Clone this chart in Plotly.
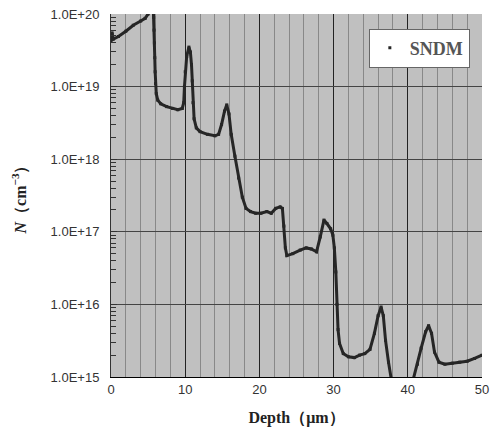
import plotly.graph_objects as go

depth_um = [0.0, 0.15, 0.3, 1.0, 2.0, 3.0, 4.0, 4.6, 5.0, 5.3,
            5.7, 5.75, 5.8, 5.85, 5.9, 5.95, 6.0, 6.1, 6.3, 6.7, 7.5, 8.3, 9.0, 9.6,
            9.8, 9.9, 10.0, 10.2, 10.5, 10.7, 10.85, 10.95, 11.05, 11.2, 11.5,
            12.0, 13.0, 14.0, 14.5, 14.9, 15.3, 15.6, 15.9, 16.2, 16.7, 17.2, 17.7,
            18.2, 18.8, 19.5, 20.2, 21.0, 21.6, 22.2, 22.8, 23.1, 23.3, 23.5, 23.7,
            24.5, 25.5, 26.3, 27.0, 27.7, 28.2, 28.7, 29.1, 29.6, 29.9, 30.1, 30.3,
            30.45, 30.6, 30.8, 31.3, 32.0, 32.8, 33.5, 34.2, 34.9, 35.5, 36.0, 36.4,
            36.7, 37.0, 37.4, 37.8, 38.5, 40.0, 40.7, 41.3, 41.8, 42.4, 42.8, 43.2,
            43.6, 44.2, 45.0, 46.0, 47.0, 48.0, 49.0, 50.0]
n_cm3 = [4.3e19, 5.5e19, 4.5e19, 4.9e19, 5.8e19, 7.0e19, 8.0e19, 8.7e19, 1.0e20, 1.2e20,
         1.2e20, 9.0e19, 6.0e19, 4.0e19, 2.5e19, 1.6e19, 1.1e19, 8.0e18, 6.5e18, 5.8e18, 5.3e18, 5.0e18, 4.8e18, 5.0e18,
         6.0e18, 1.0e19, 1.6e19, 2.6e19, 3.5e19, 3.0e19, 2.0e19, 1.2e19, 6.0e18, 3.6e18, 2.7e18,
         2.4e18, 2.2e18, 2.1e18, 2.2e18, 3.0e18, 4.6e18, 5.6e18, 4.2e18, 2.2e18, 1.1e18, 5.5e17, 3.0e17,
         2.1e17, 1.9e17, 1.8e17, 1.8e17, 1.9e17, 1.8e17, 2.1e17, 2.2e17, 2.1e17, 1.2e17, 6.0e16, 4.7e16,
         5.0e16, 5.6e16, 6.0e16, 5.8e16, 5.3e16, 8.5e16, 1.45e17, 1.3e17, 1.1e17, 9.0e16, 6.0e16, 2.8e16,
         1.0e16, 4.5e15, 2.9e15, 2.1e15, 1.9e15, 1.85e15, 2.0e15, 2.1e15, 2.4e15, 4.0e15, 7.0e15, 9.2e15,
         7.0e15, 3.2e15, 1.6e15, 9.0e14, 5.0e14, 5.0e14, 9.0e14, 1.5e15, 2.5e15, 4.2e15, 5.1e15, 4.0e15,
         2.2e15, 1.6e15, 1.5e15, 1.55e15, 1.6e15, 1.65e15, 1.8e15, 2.0e15]

y_tickvals = [1e15, 1e16, 1e17, 1e18, 1e19, 1e20]
y_ticktext = ["1.0E+15", "1.0E+16", "1.0E+17", "1.0E+18", "1.0E+19", "1.0E+20"]
x_tickvals = [0, 10, 20, 30, 40, 50]

series_name = "SNDM"
ink = "#262626"

fig = go.Figure()
fig.add_trace(go.Scatter(x=depth_um, y=n_cm3, mode="lines",
                         line=dict(color=ink, width=3), showlegend=False,
                         hoverinfo="skip"))
fig.add_trace(go.Scatter(x=depth_um, y=n_cm3, mode="markers", name=series_name,
                         marker=dict(symbol="square", size=3, color=ink)))

fig.update_layout(
    width=490, height=432,
    margin=dict(l=111, r=8, t=14, b=55),
    paper_bgcolor="white", plot_bgcolor="#c0c0c0",
    showlegend=True,
    legend=dict(x=0.695, y=0.96, xanchor="left", yanchor="top",
                bgcolor="white", bordercolor="#666", borderwidth=1,
                font=dict(family="Liberation Serif", size=18, color="#555",
                          weight="bold"),
                itemwidth=30, tracegroupgap=0),
    font=dict(family="Liberation Sans", size=13, color="#333"),
)

fig.update_xaxes(
    range=[0, 50], tickvals=x_tickvals, ticks="", showline=True,
    linecolor="#000", linewidth=1, showgrid=True, gridcolor="#222", gridwidth=1,
    zeroline=False, automargin=False, ticklabeloverflow="allow",
    tickfont=dict(family="Liberation Sans", size=13, color="#333"),
    minor=dict(dtick=2, showgrid=True, gridcolor="#888", gridwidth=1, ticks=""),
    title=dict(text="<b>Depth（μm）</b>", standoff=16,
               font=dict(family="Liberation Serif", size=16, color="#222")),
)
fig.update_yaxes(
    type="log", range=[15, 20], tickvals=y_tickvals, ticktext=y_ticktext,
    ticks="inside", ticklen=6, tickcolor="#333", showline=True, linecolor="#333",
    linewidth=1, showgrid=True, gridcolor="#444", gridwidth=1, zeroline=False,
    ticklabelstandoff=8, automargin=False, ticklabeloverflow="allow",
    tickfont=dict(family="Liberation Sans", size=13, color="#333"),
    minor=dict(ticks="inside", ticklen=5, tickcolor="#333", showgrid=False,
               dtick="D1"),
    title=dict(text="<b><i>N</i>（cm<sup>−3</sup>）</b>", standoff=20,
               font=dict(family="Liberation Serif", size=16, color="#222")),
)

fig.write_html("out.html", config={"displayModeBar": False},
               post_script="document.body.style.margin='0';")
